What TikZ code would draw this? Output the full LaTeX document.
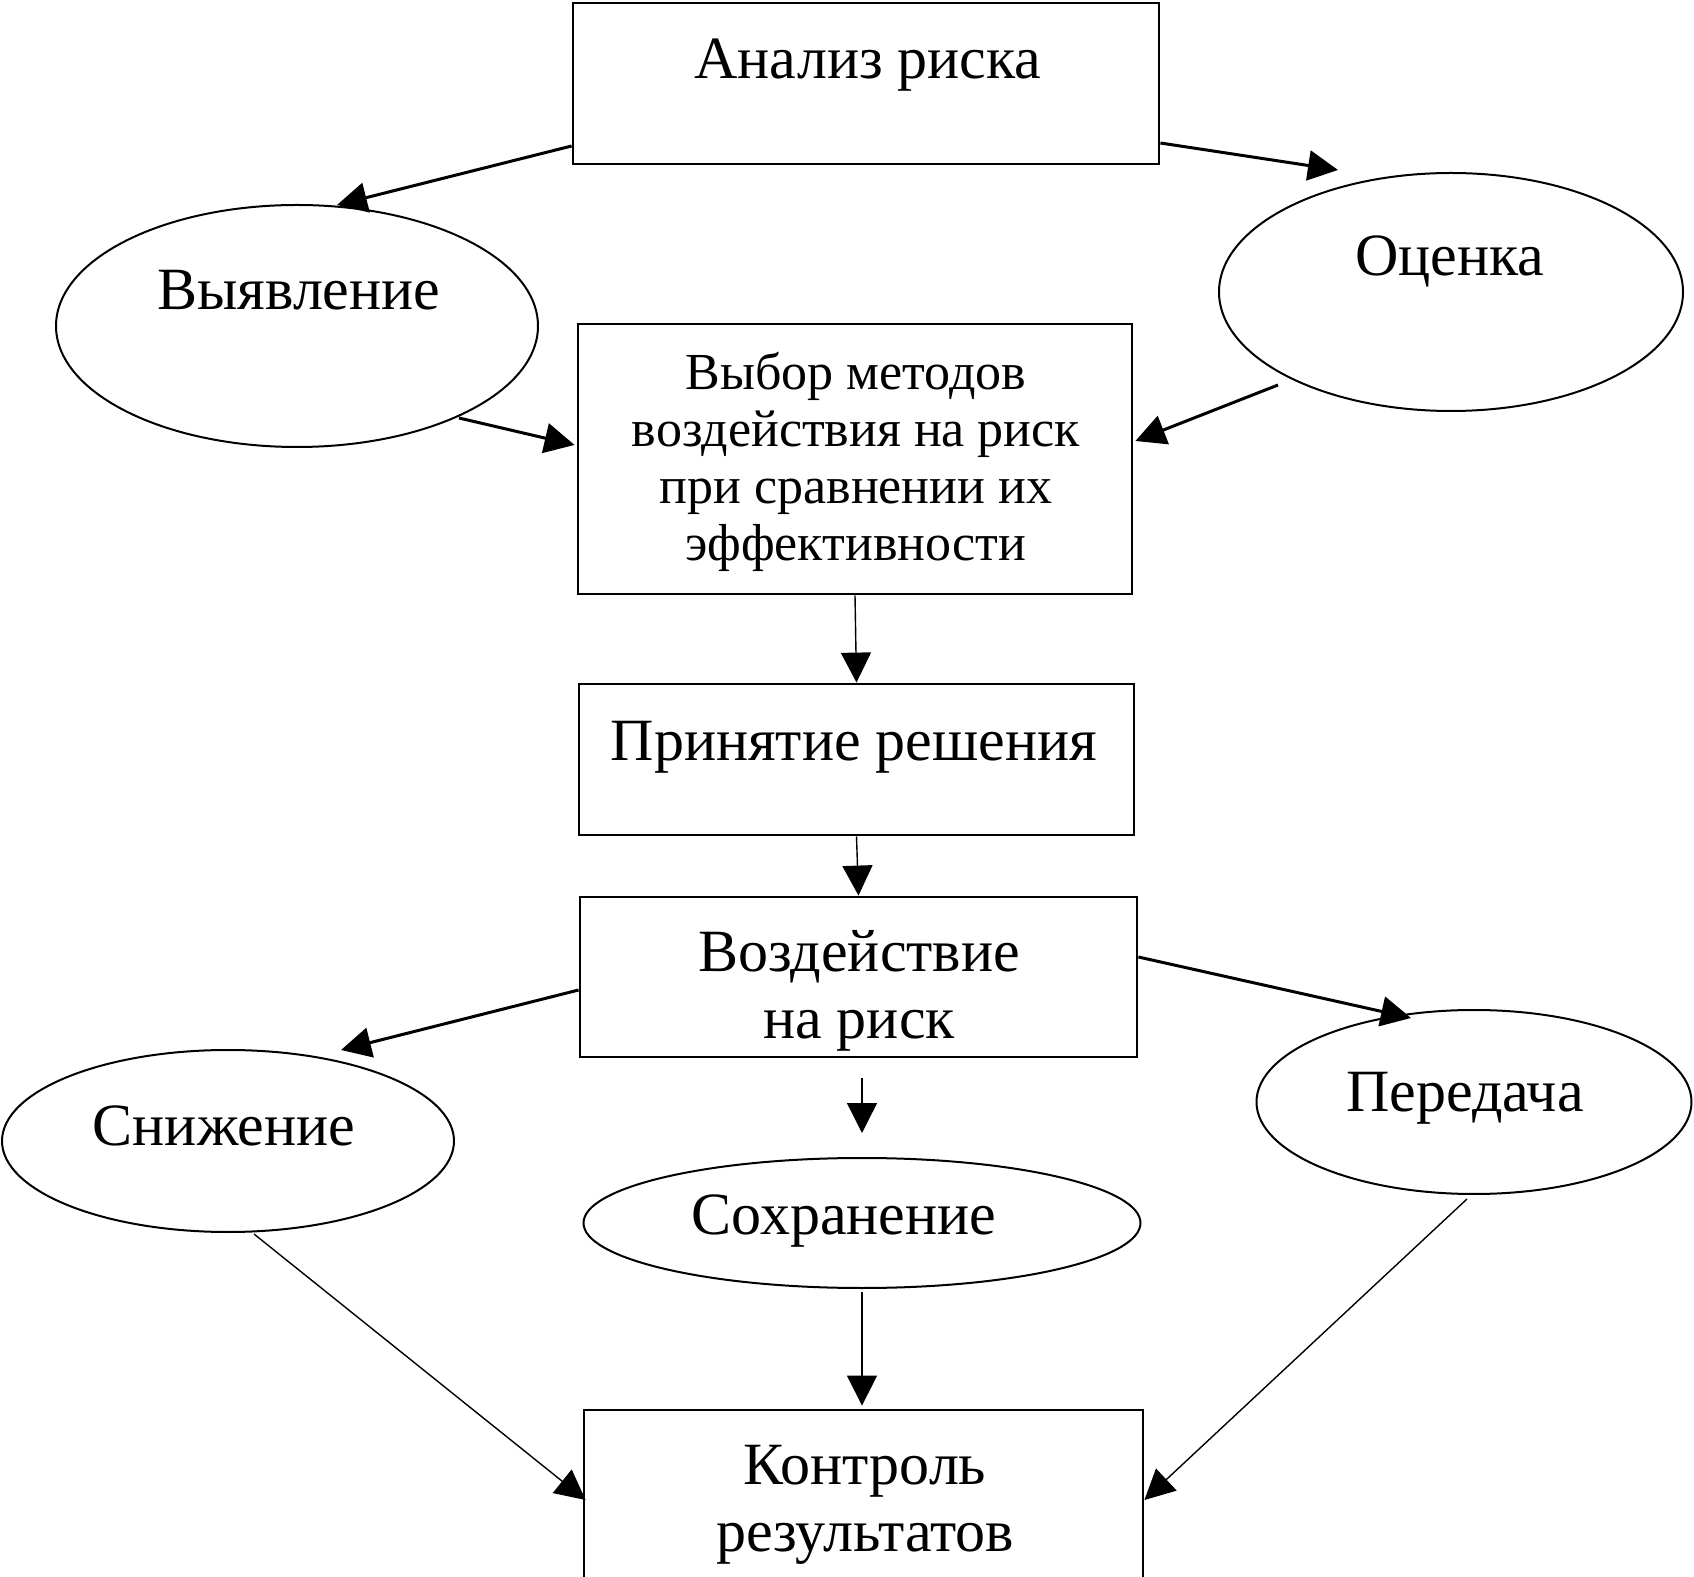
\documentclass[tikz,border=0pt]{standalone}
\usepackage{fontspec}
\setmainfont{Liberation Serif}
\usetikzlibrary{arrows.meta,shapes.geometric,calc}
\begin{document}
\begin{tikzpicture}[x=0.5pt,y=-0.5pt,
  box/.style={draw,line width=1.4pt,rectangle,inner sep=0pt},
  oval/.style={draw,line width=1pt,ellipse,inner sep=0pt},
  lbl/.style={font=\fontsize{30}{33.5}\selectfont,align=center,inner sep=0pt},
  smalltxt/.style={font=\fontsize{26}{28.5}\selectfont,align=center,inner sep=0pt},
  bigarrow/.style={line width=1.5pt,-{Triangle[length=15pt,width=15pt]}},
  smallarrow/.style={line width=0.7pt,-{Triangle[length=15pt,width=15pt]}}]
\useasboundingbox (0,0) rectangle (1694,1577);
\fill[white] (0,0) rectangle (1694,1577);
\clip (0,0) rectangle (1694,1577);

\node[box,minimum width=293pt,minimum height=80.5pt] (anal) at (866,83.5) {};
\node[lbl,anchor=base] (analt) at (868,79) {Анализ риска};

\node[oval,minimum width=241pt,minimum height=121pt] (vyav) at (297,326) {};
\node[lbl,anchor=base] (vyavt) at (299,309.5) {Выявление};

\node[oval,minimum width=232pt,minimum height=119pt] (ocen) at (1451,292) {};
\node[lbl,anchor=base] (ocent) at (1450,276) {Оценка};

\node[box,minimum width=277pt,minimum height=135pt] (vybor) at (855,459) {};
\node[smalltxt] (vybort) at (856,462) {Выбор методов\\воздействия на риск\\при сравнении их\\эффективности};

\node[box,minimum width=277.5pt,minimum height=75.5pt] (prin) at (856.5,759.5) {};
\node[lbl,anchor=base] (print) at (854,761) {Принятие решения};

\node[box,minimum width=278.5pt,minimum height=80pt] (vozd) at (858.5,977) {};
\node[lbl] (vozdt) at (859,990.5) {Воздействие\\на риск};

\node[oval,minimum width=226pt,minimum height=91pt] (sniz) at (228,1141) {};
\node[lbl,anchor=base] (snizt) at (224,1145) {Снижение};

\node[oval,minimum width=278.5pt,minimum height=65pt] (sohr) at (862,1223) {};
\node[lbl,anchor=base] (sohrt) at (844,1234) {Сохранение};

\node[oval,minimum width=217.5pt,minimum height=92pt] (pered) at (1474,1102) {};
\node[lbl,anchor=base] (peredt) at (1465,1111) {Передача};

\node[box,minimum width=279.5pt,minimum height=145pt] (kontr) at (863.5,1555) {};
\node[lbl] (kontrt) at (865,1505) {Контроль\\результатов};

\draw[bigarrow] ($(anal.west)+(0,62.5)$) -- ($(vyav.center)+(40,-121)$);
\draw[bigarrow] ($(anal.east)+(0,59.5)$) -- ($(ocen.center)+(-113,-122)$);
\draw[bigarrow] ($(vyav.center)+(162,92)$) -- ($(vybor.west)+(-2,-14)$);
\draw[bigarrow] ($(ocen.center)+(-173,93)$) -- ($(vybor.east)+(2,-18)$);
\draw[smallarrow] (vybor.south) -- (prin.north);
\draw[smallarrow] (prin.south) -- (vozd.north);
\draw[bigarrow] ($(vozd.west)+(0,13)$) -- ($(sniz.center)+(113,-91)$);
\draw[bigarrow] ($(vozd.east)+(0,-20)$) -- ($(pered.center)+(-63,-84)$);
\draw[smallarrow,shorten <=10pt,shorten >=12pt] (vozd.south -| sohr.north) -- (sohr.north);
\draw[smallarrow,shorten <=1.5pt,shorten >=1.5pt] (sohr.south) -- (sohr.south |- kontr.north);
\draw[smallarrow] ($(sniz.center)+(26,93)$) -- ($(kontr.west)+(3,-55)$);
\draw[smallarrow] ($(pered.center)+(-7,97)$) -- ($(kontr.east)+(0,-55)$);
\end{tikzpicture}
\end{document}
